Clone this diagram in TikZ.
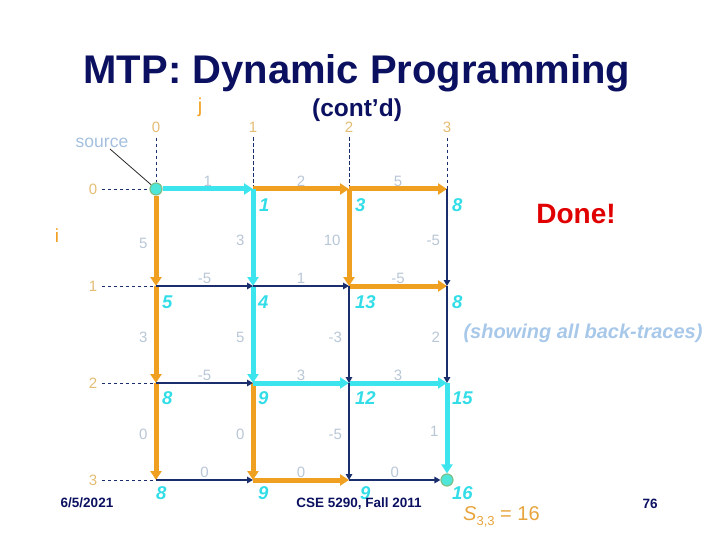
\documentclass[tikz,border=0pt]{standalone}
\usepackage{fontspec}
\setmainfont{Liberation Sans}
\usetikzlibrary{arrows.meta}
\definecolor{titlec}{HTML}{0B1160}
\definecolor{nv}{HTML}{1A2E6E}
\definecolor{cy}{HTML}{3CE4EE}
\definecolor{cyt}{HTML}{33DDE8}
\definecolor{org}{HTML}{F0A020}
\definecolor{wt}{HTML}{B8C6D6}
\definecolor{idxc}{HTML}{E4BC74}
\definecolor{srcc}{HTML}{A4C0DE}
\definecolor{showc}{HTML}{A8C8EA}
\definecolor{redc}{HTML}{E00000}
\definecolor{sorg}{HTML}{E8A43C}
\definecolor{dotfill}{HTML}{4DE6D9}
\definecolor{dotline}{HTML}{7CC08A}
\pgfdeclarelayer{fg}
\pgfsetlayers{main,fg}
\begin{document}
\begin{tikzpicture}[x=1pt,y=-1pt,
  thickc/.style={line width=5pt, draw=cy, -{Triangle[length=9pt,width=11pt]}},
  thicko/.style={line width=5pt, draw=org, -{Triangle[length=9pt,width=11pt]}},
  thinn/.style={line width=2pt, draw=nv, -{Triangle[length=6pt,width=6.5pt]}},
  hw/.style={midway, yshift=8pt, inner sep=0pt, text=wt, font=\fontsize{15}{15}\selectfont},
  vw/.style={midway, anchor=east, xshift=-6pt, yshift=-3pt, inner sep=0pt, text=wt, font=\fontsize{15}{15}\selectfont},
  val/.style={anchor=west, inner sep=0pt, text=cyt, font=\fontsize{18.5}{19}\selectfont\bfseries\itshape},
  idxl/.style={inner sep=4.5pt, text=idxc, font=\fontsize{15}{15}\selectfont},
  dsh/.style={draw=nv, line width=0.9pt, dash pattern=on 3.5pt off 2.5pt},
  dot/.style={circle, minimum size=12pt, inner sep=0pt, fill=dotfill, draw=dotline, line width=1.2pt},
  navyt/.style={text=titlec, font=\bfseries}
]
\useasboundingbox (0,0) rectangle (720,540);

% title
\node[navyt, anchor=base, font=\fontsize{40}{40}\selectfont\bfseries] (title) at (357,84) {MTP: Dynamic Programming};
\node[navyt, anchor=base, font=\fontsize{24.5}{25}\selectfont\bfseries] (cont) at (357,117) {(cont’d)};

% grid points
\begin{pgfonlayer}{fg}
\node[dot] (n00) at (156,189) {};
\node[dot] (n33) at (447,480) {};
\end{pgfonlayer}
\coordinate (n01) at (253,189);
\coordinate (n02) at (349,189);
\coordinate (n03) at (447,189);
\coordinate (n10) at (156,286);
\coordinate (n11) at (253,286);
\coordinate (n12) at (349,286);
\coordinate (n13) at (447,286);
\coordinate (n20) at (156,383);
\coordinate (n21) at (253,383);
\coordinate (n22) at (349,383);
\coordinate (n23) at (447,383);
\coordinate (n30) at (156,480);
\coordinate (n31) at (253,480);
\coordinate (n32) at (349,480);

% index labels
\node[anchor=base, inner sep=0pt, text=org, font=\fontsize{20}{20}\selectfont] (jlab) at (200,113) {j};
\node[anchor=center, inner sep=0pt, text=org, font=\fontsize{19}{19}\selectfont] (ilab) at (57,236) {i};
\node[idxl] (c0) at (156,127.5) {0};
\node[idxl] (c1) at (253,127.5) {1};
\node[idxl] (c2) at (349,127.5) {2};
\node[idxl] (c3) at (447,127.5) {3};
\node[idxl] (r0) at (93,189) {0};
\node[idxl] (r1) at (93,286) {1};
\node[idxl] (r2) at (93,383) {2};
\node[idxl] (r3) at (93,480) {3};
\draw[dsh] (c0) -- (n00);
\draw[dsh] (c1) -- (n01);
\draw[dsh] (c2) -- (n02);
\draw[dsh] (c3) -- (n03);
\draw[dsh] (r0) -- (n00);
\draw[dsh] (r1) -- (n10);
\draw[dsh] (r2) -- (n20);
\draw[dsh] (r3) -- (n30);

% source label
\node[inner sep=0pt, text=srcc, font=\fontsize{17.5}{18}\selectfont] (srclab) at (102,143) {source};
\coordinate (srcend) at (110,149);
\draw[line width=0.8pt, draw=black!85] (srcend) -- (n00);

% thick edges
\draw[thickc] (n00) -- (n01) node[hw]{1};
\draw[thicko] (n01) -- (n02) node[hw]{2};
\draw[thicko] (n02) -- (n03) node[hw]{5};
\draw[thicko] (n00) -- (n10) node[vw]{5};
\draw[thicko] (n10) -- (n20) node[vw]{3};
\draw[thicko] (n20) -- (n30) node[vw]{0};
\draw[thickc] (n01) -- (n11) node[vw]{3};
\draw[thickc] (n11) -- (n21) node[vw]{5};
\draw[thicko] (n21) -- (n31) node[vw]{0};
\draw[thicko] (n02) -- (n12) node[vw]{10};
\draw[thicko] (n12) -- (n13) node[hw]{-5};
\draw[thickc] (n21) -- (n22) node[hw]{3};
\draw[thickc] (n22) -- (n23) node[hw]{3};
\draw[thicko] (n31) -- (n32) node[hw]{0};
\draw[thickc] (n23) -- (n33) node[vw]{1};

% thin edges
\draw[thinn] (n10) -- (n11) node[hw]{-5};
\draw[thinn] (n11) -- (n12) node[hw]{1};
\draw[thinn] (n20) -- (n21) node[hw]{-5};
\draw[thinn] (n30) -- (n31) node[hw]{0};
\draw[thinn] (n32) -- (n33) node[hw]{0};
\draw[thinn] (n12) -- (n22) node[vw]{-3};
\draw[thinn] (n22) -- (n32) node[vw]{-5};
\draw[thinn] (n03) -- (n13) node[vw]{-5};
\draw[thinn] (n13) -- (n23) node[vw]{2};

% node values
\node[val] (v01) at (259,205) {1};
\node[val] (v02) at (355,205) {3};
\node[val] (v03) at (452,205) {8};
\node[val] (v10) at (162,302) {5};
\node[val] (v11) at (258,302) {4};
\node[val] (v12) at (355,302) {13};
\node[val] (v13) at (452,302) {8};
\node[val] (v20) at (162,398) {8};
\node[val] (v21) at (258,398) {9};
\node[val] (v22) at (355,398) {12};
\node[val] (v23) at (452,398) {15};
\node[val] (v30) at (156,493) {8};
\node[val] (v31) at (258,493) {9};
\node[val] (v32) at (360,493) {9};
\node[val] (v33) at (452,493) {16};

% side texts
\node[anchor=base, inner sep=0pt, text=redc, font=\fontsize{28}{28}\selectfont\bfseries] (done) at (576,224) {Done!};
\node[inner sep=0pt, text=showc, font=\fontsize{20}{20}\selectfont\bfseries\itshape] (show) at (583,333) {(showing all back-traces)};
\node[anchor=base west, inner sep=0pt, text=sorg, font=\fontsize{20}{20}\selectfont] (s33) at (463,520) {\textit{S}\raisebox{-5pt}{\fontsize{13}{13}\selectfont 3,3} = 16};

% footer
\node[navyt, inner sep=0pt, font=\fontsize{13.5}{14}\selectfont\bfseries] (date) at (87,503) {6/5/2021};
\node[navyt, inner sep=0pt, font=\fontsize{13.5}{14}\selectfont\bfseries] (course) at (359,504) {CSE 5290, Fall 2011};
\node[navyt, inner sep=0pt, font=\fontsize{13.5}{14}\selectfont\bfseries] (page) at (650,504) {76};
\end{tikzpicture}
\end{document}
